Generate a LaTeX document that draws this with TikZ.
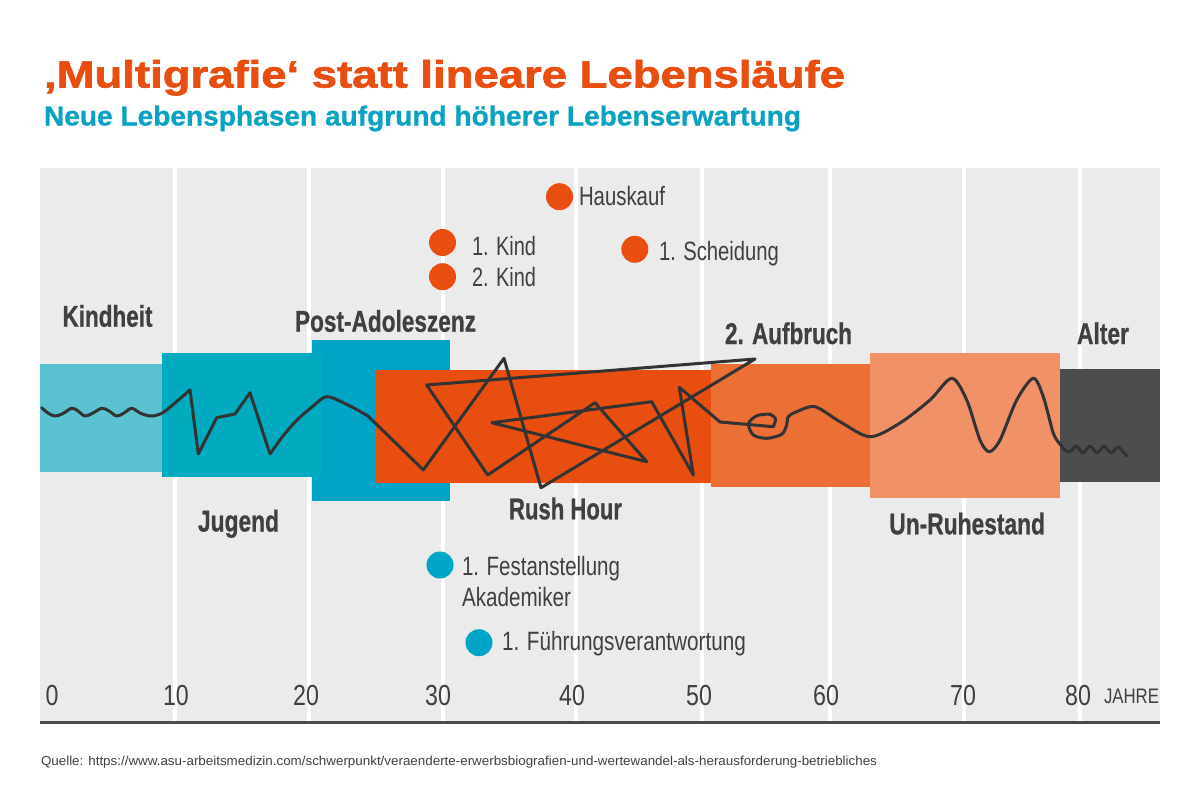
\documentclass[tikz,border=0pt]{standalone}
\usepackage{fontspec}
\setmainfont{Liberation Sans}
\newfontfamily\heavyfont[FakeBold=1.6]{Liberation Sans Bold}
\newfontfamily\semiheavyfont[FakeBold=0.8]{Liberation Sans Bold}
\usepackage{graphicx}
\definecolor{titleorange}{HTML}{E84E0F}
\definecolor{subteal}{HTML}{0AA2C3}
\definecolor{bggray}{HTML}{EBEBEB}
\definecolor{kindc}{HTML}{5BC2D2}
\definecolor{jugendc}{HTML}{00AABF}
\definecolor{postc}{HTML}{00A4C4}
\definecolor{rushc}{HTML}{E84E0F}
\definecolor{aufbc}{HTML}{EC6F36}
\definecolor{ruhec}{HTML}{F19167}
\definecolor{alterc}{HTML}{4D4D4D}
\definecolor{labelgray}{HTML}{404040}
\definecolor{linegray}{HTML}{333333}
\definecolor{axisgray}{HTML}{4A4A4A}
\definecolor{dotorange}{HTML}{E84E0F}
\definecolor{dotteal}{HTML}{00A6C5}
\newcommand\fitw[2]{\resizebox{#1pt}{\height}{#2}}
\begin{document}
\begin{tikzpicture}[x=1pt,y=-1pt,
  txt/.style={anchor=base west, inner sep=0pt, outer sep=0pt},
  phase/.style={txt, text=labelgray, font=\semiheavyfont\fontsize{30}{30}\selectfont},
  event/.style={txt, text=labelgray, font=\fontsize{26.5}{26.5}\selectfont},
  num/.style={anchor=base, inner sep=0pt, text=labelgray, font=\fontsize{29}{29}\selectfont},
  dotO/.style={circle, fill=dotorange, minimum size=27pt, inner sep=0pt},
  dotT/.style={circle, fill=dotteal, minimum size=27pt, inner sep=0pt},
  gridline/.style={white, line width=4.5pt},
  lifeline/.style={draw=linegray, line width=3pt, line join=round, line cap=round}
]
\useasboundingbox (0,0) rectangle (1204,803);
\fill[white] (0,0) rectangle (1204,803);

% title
\node[txt, text=titleorange, font=\heavyfont\fontsize{38}{38}\selectfont] (title) at (44,87.5)
  {\fitw{801}{‚Multigrafie‘ statt lineare Lebensläufe}};
\node[txt, text=subteal, font=\semiheavyfont\fontsize{27.5}{27.5}\selectfont] (subtitle) at (44,125.5)
  {\fitw{757}{Neue Lebensphasen aufgrund höherer Lebenserwartung}};

% background and grid
\fill[bggray] (40,168) rectangle (1160,721);
\foreach \gx in {175,309,443,576,702,830,964,1080}
  \draw[gridline] (\gx,168) -- (\gx,721);
\draw[axisgray, line width=3pt] (40,722) -- (1160,722);

% phase boxes
\fill[kindc] (40,364) rectangle (161.7,472.3);
\fill[postc] (311.5,340) rectangle (450,501);
\fill[jugendc] (161.7,353.3) rectangle (321.7,476.7);
\fill[rushc] (375,370) rectangle (710.5,483.3);
\fill[aufbc] (710.5,364) rectangle (870,486.7);
\fill[ruhec] (870,353.3) rectangle (1059.5,498.3);
\fill[alterc] (1059.5,369.3) rectangle (1160,481.7);

% life line
\draw[lifeline] plot[smooth, tension=0.6] coordinates {(41.7,407.7) (48,413) (55,416) (63,413.5) (71.7,408.3) (78,411) (85,416) (93,413) (101.7,408.3) (109,411) (116.7,416) (124,413) (131.7,408.3) (140,413) (150,416) (159,414.5) (166.7,410)};
\draw[lifeline] (166.7,410) -- (190,390) -- (198.3,454) -- (216.7,417.7) -- (235,414) -- (250,392.7) -- (270,454);
\draw[lifeline] plot[smooth] coordinates {(270,454) (283,436) (297,420) (312,407) (326.7,396.7) (348,405) (368,416)};
\draw[lifeline] (368,416) -- (423.3,470) -- (504,358.3) -- (541,487.7) -- (755,359) -- (426.7,385) -- (487.7,475) -- (595,402.7) -- (646.7,461.7) -- (491.7,422.7) -- (651.7,401.7) -- (693.3,475) -- (679.3,387.3) -- (720,422) -- (773.3,426.7);
\draw[lifeline] plot[smooth] coordinates {(773.3,426.7) (775.5,419) (770,414.3) (757,415.7) (748.5,423.5) (753.3,435) (766.7,438.3) (781.7,434.3) (786.7,425) (788.3,416.7) (796.7,411.7) (815,406.7) (840,421.7) (870,436.7) (900,423) (930,400) (951.7,378.3) (966.7,400) (980,440) (989.3,451.7) (1000,440) (1016.7,400) (1033.3,378.3) (1043.3,396.7) (1053.3,433.3) (1060,444)};
\draw[lifeline] plot[smooth] coordinates {(1060,444) (1065,450) (1070,452) (1076,446) (1083,453) (1090,446) (1097,453) (1104,446) (1111,453) (1118,447) (1124,453) (1127,456)};

% phase labels
\node[phase] (kindheit) at (62.5,326.7) {\fitw{90}{Kindheit}};
\node[phase] (postadol) at (295,331.7) {\fitw{181}{Post-Adoleszenz}};
\node[phase] (jugend) at (198,531.5) {\fitw{81}{Jugend}};
\node[phase] (rush) at (509,519.3) {\fitw{113}{Rush Hour}};
\node[phase] (aufbruch) at (725,344) {\fitw{127}{2. Aufbruch}};
\node[phase] (ruhestand) at (889.3,534.3) {\fitw{155.7}{Un-Ruhestand}};
\node[phase] (alter) at (1077,344) {\fitw{52}{Alter}};

% events
\node[dotO] (dhaus) at (559.5,196.7) {};
\node[event] (haus) at (579,205) {\fitw{86}{Hauskauf}};
\node[dotO] (dkind1) at (442.5,242.5) {};
\node[event] (kind1) at (472,255.7) {\fitw{64}{1. Kind}};
\node[dotO] (dkind2) at (442.5,276.7) {};
\node[event] (kind2) at (472,286.7) {\fitw{64}{2. Kind}};
\node[dotO] (dscheid) at (634.8,249.3) {};
\node[event] (scheid) at (659,260) {\fitw{120}{1. Scheidung}};
\node[dotT] (dfest) at (440,565) {};
\node[event] (fest) at (462,575) {\fitw{158}{1. Festanstellung}};
\node[event] (akad) at (462,606.7) {\fitw{109}{Akademiker}};
\node[dotT] (dfuehr) at (479,642.7) {};
\node[event] (fuehr) at (502,650.7) {\fitw{244}{1. Führungsverantwortung}};

% axis numbers
\foreach \nx/\nv in {52/0,176/10,306/20,438/30,572/40,699/50,826/60,963/70,1078/80}
  \node[num] (n\nv) at (\nx,705.7) {\scalebox{0.8}[1]{\nv}};
\node[txt, text=labelgray, font=\fontsize{21}{21}\selectfont] (jahre) at (1104,703.5) {\fitw{55}{JAHRE}};

% source
\node[txt, text=labelgray, font=\fontsize{13}{13}\selectfont] (source) at (41,765.5)
  {\fitw{836}{Quelle: https://www.asu-arbeitsmedizin.com/schwerpunkt/veraenderte-erwerbsbiografien-und-wertewandel-als-herausforderung-betriebliches}};
\end{tikzpicture}
\end{document}
